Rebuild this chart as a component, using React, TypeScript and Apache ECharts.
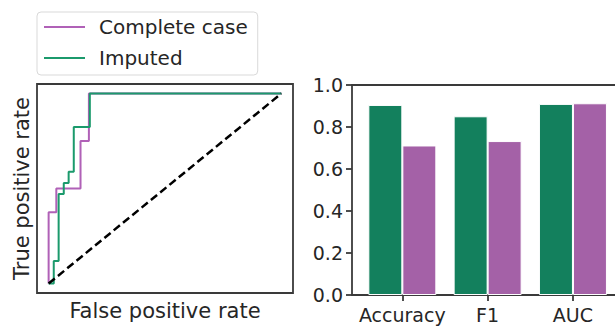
import React, { useEffect, useRef } from "react";
import * as echarts from "echarts";

// ROC curves (false positive rate / true positive rate, corner points included)
const completeFpr = [0, 0, 0.033, 0.033, 0.137, 0.137, 0.173, 0.173, 1];
const completeTpr = [0, 0.375, 0.375, 0.5, 0.5, 0.75, 0.75, 1, 1];
const imputedFpr = [0, 0.022, 0.022, 0.043, 0.043, 0.065, 0.065, 0.086, 0.086, 0.108, 0.108, 0.177, 0.177, 1];
const imputedTpr = [0, 0, 0.118, 0.118, 0.471, 0.471, 0.529, 0.529, 0.588, 0.588, 0.824, 0.824, 1, 1];
const chanceLine = [0, 1];

// Summary metrics
const metrics = ["Accuracy", "F1", "AUC"];
const imputedScores = [0.905, 0.851, 0.91];
const completeScores = [0.712, 0.733, 0.913];
const scoreTicks = [0, 0.2, 0.4, 0.6, 0.8, 1.0];

const FONT = "DejaVu Sans";
const INK = "#262626";
const SPINE = "#3a3a3a";
const LINE_PURPLE = "#b061b7";
const LINE_GREEN = "#1b9a6c";
const BAR_GREEN = "#13805d";
const BAR_PURPLE = "#a461a7";

// thin horizontal stroke used as the legend handle
const LEGEND_HANDLE = "path://M0,0H41V2.2H0Z";

// metric panel x-range (category index units); the panel runs past the right edge
const METRIC_X_MIN = -0.59;
const METRIC_X_MAX = 2.493;

export default function App() {
  const ref = useRef<HTMLDivElement>(null);

  useEffect(() => {
    if (!ref.current) return;
    const chart = echarts.init(ref.current, undefined, { renderer: "svg" });

    const zip = (xs: number[], ys: number[]) => xs.map((x, i) => [x, ys[i]]);
    const spine = { color: SPINE, width: 1.8 };

    const option: echarts.EChartsOption = {
      animation: false,
      backgroundColor: "#ffffff",
      textStyle: { fontFamily: FONT, color: INK },
      legend: {
        data: [
          { name: "Complete case", icon: LEGEND_HANDLE, itemStyle: { color: LINE_PURPLE } },
          { name: "Imputed", icon: LEGEND_HANDLE, itemStyle: { color: LINE_GREEN } },
        ],
        orient: "vertical",
        left: 37,
        top: 12,
        padding: [5, 10, 7, 7],
        itemGap: 11,
        itemWidth: 41,
        itemHeight: 20,
        symbolKeepAspect: true,
        borderColor: "#d9d9d9",
        borderWidth: 1,
        borderRadius: 4,
        backgroundColor: "#ffffff",
        selectedMode: false,
        textStyle: { fontFamily: FONT, fontSize: 20, color: INK, padding: [0, 0, 0, 9] },
      },
      grid: [
        {
          left: 37,
          top: 84,
          width: 256,
          height: 209,
          show: true,
          borderColor: SPINE,
          borderWidth: 1.8,
          backgroundColor: "transparent",
        },
        {
          left: 352,
          top: 85,
          right: 0,
          height: 210,
          show: false,
        },
      ],
      xAxis: [
        {
          gridIndex: 0,
          type: "value",
          min: -0.05,
          max: 1.05,
          name: "False positive rate",
          nameLocation: "middle",
          nameGap: 7,
          nameTextStyle: { fontFamily: FONT, fontSize: 21, color: INK },
          axisLine: { show: false },
          axisTick: { show: false },
          axisLabel: { show: false },
          splitLine: { show: false },
        },
        {
          gridIndex: 1,
          type: "value",
          min: METRIC_X_MIN,
          max: METRIC_X_MAX,
          position: "bottom",
          axisLine: { show: true, onZero: false, lineStyle: spine },
          axisTick: {
            show: true,
            length: 6,
            customValues: [0, 1, 2],
            lineStyle: spine,
          },
          axisLabel: {
            show: true,
            customValues: [0, 1, 2],
            margin: 10,
            fontFamily: FONT,
            fontSize: 19,
            color: INK,
            formatter: (v: number) => metrics[Math.round(v)] ?? "",
          },
          splitLine: { show: false },
        },
        {
          // top spine of the metric panel
          gridIndex: 1,
          type: "value",
          min: METRIC_X_MIN,
          max: METRIC_X_MAX,
          position: "top",
          axisLine: { show: true, onZero: false, lineStyle: spine },
          axisTick: { show: false },
          axisLabel: { show: false },
          splitLine: { show: false },
        },
      ],
      yAxis: [
        {
          gridIndex: 0,
          type: "value",
          min: -0.05,
          max: 1.05,
          name: "True positive rate",
          nameLocation: "middle",
          nameGap: 5,
          nameTextStyle: { fontFamily: FONT, fontSize: 21, color: INK },
          axisLine: { show: false },
          axisTick: { show: false },
          axisLabel: { show: false },
          splitLine: { show: false },
        },
        {
          gridIndex: 1,
          type: "value",
          min: 0,
          max: 1,
          axisLine: { show: true, onZero: false, lineStyle: spine },
          axisTick: {
            show: true,
            length: 6,
            customValues: scoreTicks,
            lineStyle: spine,
          },
          axisLabel: {
            show: true,
            customValues: scoreTicks,
            margin: 9,
            fontFamily: FONT,
            fontSize: 19,
            color: INK,
            formatter: (v: number) => v.toFixed(1),
          },
          splitLine: { show: false },
        },
      ],
      series: [
        {
          name: "Complete case",
          type: "line",
          xAxisIndex: 0,
          yAxisIndex: 0,
          symbol: "none",
          data: zip(completeFpr, completeTpr),
          lineStyle: { color: LINE_PURPLE, width: 2 },
          itemStyle: { color: LINE_PURPLE },
          z: 3,
        },
        {
          name: "Imputed",
          type: "line",
          xAxisIndex: 0,
          yAxisIndex: 0,
          symbol: "none",
          data: zip(imputedFpr, imputedTpr),
          lineStyle: { color: LINE_GREEN, width: 2 },
          itemStyle: { color: LINE_GREEN },
          z: 4,
        },
        {
          name: "chance",
          type: "line",
          xAxisIndex: 0,
          yAxisIndex: 0,
          symbol: "none",
          data: zip(chanceLine, chanceLine),
          lineStyle: { color: "#000000", width: 2.5, type: [8, 4] },
          z: 5,
        },
        {
          name: "Imputed",
          type: "bar",
          xAxisIndex: 1,
          yAxisIndex: 1,
          data: imputedScores.map((v, i) => [i, v]),
          barWidth: 34,
          barGap: "0%",
          itemStyle: { color: BAR_GREEN, borderColor: "#ffffff", borderWidth: 1 },
        },
        {
          name: "Complete case",
          type: "bar",
          xAxisIndex: 1,
          yAxisIndex: 1,
          data: completeScores.map((v, i) => [i, v]),
          barWidth: 34,
          barGap: "0%",
          itemStyle: { color: BAR_PURPLE, borderColor: "#ffffff", borderWidth: 1 },
        },
      ],
    };

    chart.setOption(option);
    return () => chart.dispose();
  }, []);

  return (
    <div
      ref={ref}
      style={{ position: "fixed", left: 0, top: 0, width: 615, height: 327 }}
    />
  );
}
